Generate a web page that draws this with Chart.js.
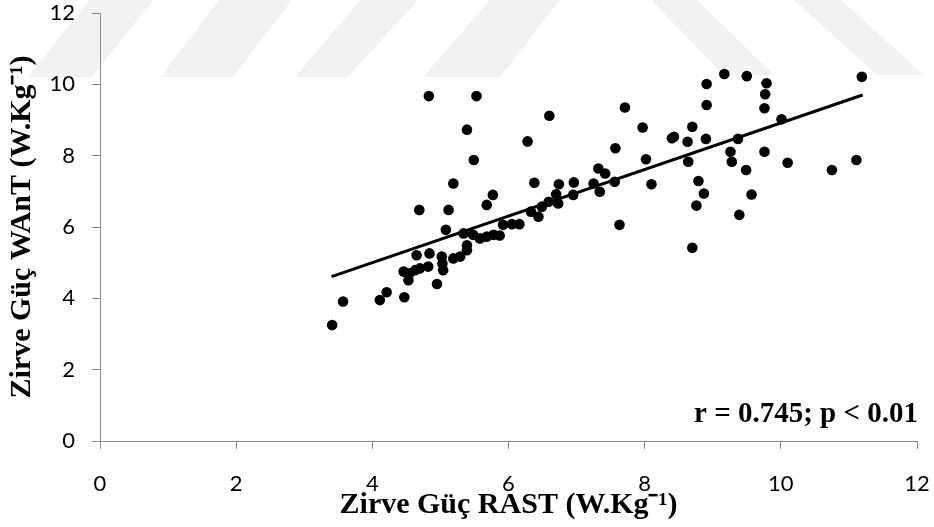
<!DOCTYPE html>
<html lang="tr">
<head>
<meta charset="UTF-8">
<title>Zirve Güç RAST - WAnT</title>
<script src="https://cdn.jsdelivr.net/npm/chart.js@4.4.1/dist/chart.umd.min.js"></script>
<style>
  html, body { margin: 0; padding: 0; background: #fff; }
  #kutu { width: 934px; height: 527px; }
</style>
</head>
<body>
<div id="kutu"><canvas id="grafik"></canvas></div>
<script>
// RAST zirve güç değerleri (x)
const rastDegerleri = [
  3.41, 3.57, 4.11, 4.21, 4.47, 4.46, 4.55, 4.53, 4.63, 4.70,
  4.82, 4.65, 4.84, 4.95, 5.02, 5.03, 5.04, 5.19, 5.29, 5.39,
  5.39, 5.08, 4.69, 5.12, 4.83, 5.53, 5.39, 5.49, 5.19, 5.68,
  5.77, 5.34, 5.48, 5.58, 5.68, 5.78, 5.87, 5.92, 6.05, 6.16,
  6.33, 6.44, 6.49, 6.59, 6.70, 6.73, 6.95, 6.38, 6.74, 6.96,
  7.25, 7.32, 7.42, 7.56, 7.34, 7.63, 6.28, 6.60, 7.71, 7.57,
  7.97, 8.02, 8.10, 8.40, 8.43, 8.63, 8.70, 8.90, 8.91, 8.91,
  9.17, 9.50, 9.79, 9.77, 9.76, 10.01, 11.19, 9.37, 8.64, 9.26,
  9.28, 9.76, 9.49, 10.10, 10.75, 11.11, 8.79, 8.87, 8.76, 9.57,
  9.39, 8.70
];

// WAnT zirve güç değerleri (y)
const wantDegerleri = [
  3.25, 3.91, 3.95, 4.17, 4.03, 4.75, 4.70, 4.51, 4.79, 4.84,
  4.89, 5.21, 5.26, 4.40, 5.17, 4.98, 4.79, 5.12, 5.17, 5.35,
  5.49, 5.92, 6.48, 6.48, 9.67, 9.67, 8.73, 7.88, 7.22, 6.62,
  6.90, 5.82, 5.78, 5.68, 5.73, 5.78, 5.76, 6.06, 6.08, 6.08,
  6.43, 6.29, 6.57, 6.71, 6.92, 6.66, 6.90, 7.24, 7.20, 7.25,
  7.22, 7.64, 7.50, 7.27, 6.99, 6.06, 8.40, 9.12, 9.35, 8.21,
  8.79, 7.90, 7.20, 8.49, 8.53, 8.39, 8.81, 8.47, 9.42, 10.01,
  10.29, 10.23, 10.03, 9.72, 9.33, 9.02, 10.21, 8.47, 7.83, 8.11,
  7.83, 8.11, 7.60, 7.80, 7.60, 7.88, 7.29, 6.94, 6.60, 6.91,
  6.34, 5.42
];

// Doğrusal eğilim çizgisinin uç noktaları
const trendX = [3.4, 11.2];
const trendY = [4.61, 9.70];

// Her iki eksenin tik değerleri
const eksenTikleri = [0, 2, 4, 6, 8, 10, 12];

const xBaslik = 'Zirve Güç RAST (W.Kg⁻¹)';
const yBaslik = 'Zirve Güç WAnT (W.Kg⁻¹)';
const istatistik = 'r = 0.745; p < 0.01';

const eksenRengi = '#8c8c8c';
const tikYazi = { family: 'Lato, "Open Sans", sans-serif', size: 22 };
const baslikYazi = { family: '"Liberation Serif", "Times New Roman", serif', size: 30, weight: 'bold', lineHeight: 1.2 };

const noktalar = rastDegerleri.map((x, i) => ({ x: x, y: wantDegerleri[i] }));
const trendNoktalari = trendX.map((x, i) => ({ x: x, y: trendY[i] }));

// Tik yazılarının ekstra kenar boşluğu istemesini engelle
function kenarlariSifirla(ax) {
  ax.paddingTop = 0;
  ax.paddingBottom = 0;
  ax.paddingLeft = 0;
  ax.paddingRight = 0;
}

// Arka plandaki soluk çapraz şeritler
const arkaPlanDesen = {
  id: 'arkaPlanDesen',
  beforeDraw(chart) {
    const ctx = chart.ctx;
    const seritler = [
      [[28, 77], [92, 77], [153, 0], [89, 0]],
      [[160, 77], [233, 77], [292, 0], [219, 0]],
      [[295, 77], [348, 77], [418, 0], [360, 0]],
      [[423, 77], [500, 77], [560, 0], [490, 0]],
      [[651, 0], [697, 0], [774, 75], [724, 75]],
      [[794, 0], [841, 0], [924, 75], [877, 75]]
    ];
    ctx.save();
    ctx.fillStyle = '#f2f2f2';
    seritler.forEach(s => {
      ctx.beginPath();
      ctx.moveTo(s[0][0], s[0][1]);
      for (let i = 1; i < s.length; i++) ctx.lineTo(s[i][0], s[i][1]);
      ctx.closePath();
      ctx.fill();
    });
    ctx.restore();
  }
};

// Sağ alttaki korelasyon yazısı
const istatistikYazisi = {
  id: 'istatistikYazisi',
  afterDatasetsDraw(chart) {
    const ctx = chart.ctx;
    const alan = chart.chartArea;
    ctx.save();
    ctx.font = 'bold 29px "Liberation Serif", "Times New Roman", serif';
    ctx.fillStyle = '#000';
    ctx.textAlign = 'right';
    ctx.textBaseline = 'alphabetic';
    ctx.fillText(istatistik, alan.right + 1, alan.bottom - 19);
    ctx.restore();
  }
};

new Chart(document.getElementById('grafik').getContext('2d'), {
  type: 'scatter',
  data: {
    datasets: [
      {
        type: 'line',
        data: trendNoktalari,
        borderColor: '#000',
        borderWidth: 3,
        pointRadius: 0,
        fill: false,
        order: 0
      },
      {
        data: noktalar,
        backgroundColor: '#000',
        borderWidth: 0,
        pointRadius: 5.3,
        order: 1
      }
    ]
  },
  options: {
    responsive: true,
    maintainAspectRatio: false,
    animation: false,
    layout: { padding: { left: 0, right: 17, top: 13, bottom: 0 } },
    plugins: {
      legend: { display: false },
      tooltip: { enabled: false }
    },
    scales: {
      x: {
        type: 'linear',
        min: 0,
        max: 12,
        afterBuildTicks: ax => { ax.ticks = eksenTikleri.map(v => ({ value: v })); },
        afterFit: ax => { ax.height = 86; kenarlariSifirla(ax); },
        grid: { drawOnChartArea: false, drawTicks: true, tickLength: 8, color: eksenRengi, lineWidth: 1 },
        border: { color: eksenRengi, width: 1 },
        ticks: { color: '#000', font: tikYazi, padding: 22, maxRotation: 0 },
        title: { display: true, text: xBaslik, color: '#000', font: baslikYazi, padding: { top: 0, bottom: 4 } }
      },
      y: {
        type: 'linear',
        min: 0,
        max: 12,
        afterBuildTicks: ax => { ax.ticks = eksenTikleri.map(v => ({ value: v })); },
        afterFit: ax => { ax.width = 100; kenarlariSifirla(ax); },
        grid: { drawOnChartArea: false, drawTicks: true, tickLength: 8, color: eksenRengi, lineWidth: 1 },
        border: { color: eksenRengi, width: 1 },
        ticks: { color: '#000', font: tikYazi, padding: 17 },
        title: { display: true, text: yBaslik, color: '#000', font: baslikYazi, padding: { top: 4, bottom: 0 } }
      }
    }
  },
  plugins: [arkaPlanDesen, istatistikYazisi]
});
</script>
</body>
</html>
